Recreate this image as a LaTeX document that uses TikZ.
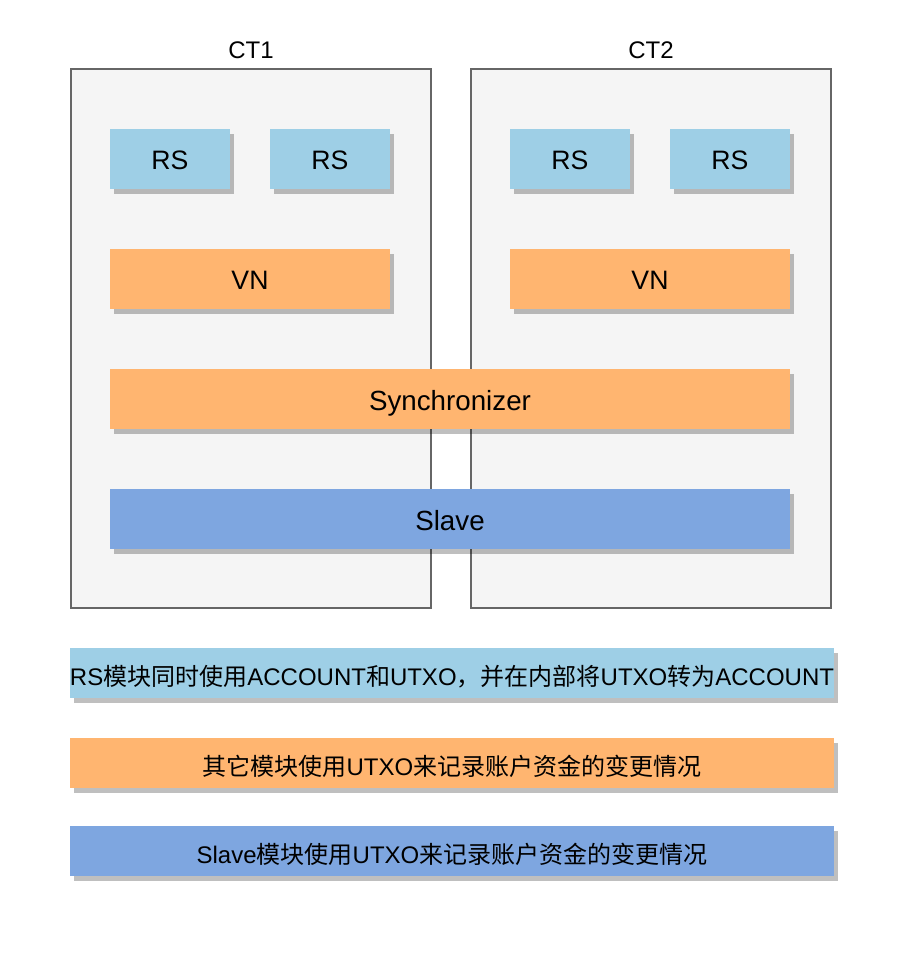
\documentclass[tikz,border=0pt]{standalone}
\usepackage{fontspec}
\setmainfont{Liberation Sans}
\newfontfamily\cjkfont{Noto Sans CJK SC}
\newcommand\zh[1]{{\cjkfont #1}}
\usetikzlibrary{shadows}
\definecolor{rsblue}{HTML}{9ECFE6}
\definecolor{vnorange}{HTML}{FFB570}
\definecolor{slaveblue}{HTML}{7EA6E0}
\definecolor{ctfill}{HTML}{F5F5F5}
\definecolor{ctline}{HTML}{666666}
\tikzset{
  shad/.style={drop shadow={shadow xshift=3.2pt, shadow yshift=-3.6pt, fill=black, opacity=0.25}},
  ctbox/.style={draw=ctline, fill=ctfill, line width=1.1pt, minimum width=270pt, minimum height=404.25pt, inner sep=0pt},
  ctlabel/.style={font=\fontsize{18pt}{21pt}\selectfont, inner sep=0pt, text height=12.9pt, text depth=0pt},
  blk/.style={shad, inner sep=0pt, minimum height=45pt, text height=15.3pt, text depth=0pt},
  rsbox/.style={blk, fill=rsblue, minimum width=90pt, font=\fontsize{20pt}{24pt}\selectfont},
  vnbox/.style={blk, fill=vnorange, minimum width=210pt, font=\fontsize{20pt}{24pt}\selectfont},
  widebox/.style={blk, minimum width=510pt, text height=17.9pt, font=\fontsize{20.8pt}{24pt}\selectfont},
  legend/.style={shad, inner sep=0pt, minimum width=573pt, minimum height=37.5pt, text height=18.9pt, text depth=0pt, font=\fontsize{18pt}{21pt}\selectfont},
}
\begin{document}
\begin{tikzpicture}[x=0.75pt, y=-0.75pt]
\useasboundingbox (0,0) rectangle (920,966);
% containers
\node[ctbox] (ct1) at (251,338.5) {};
\node[ctbox] (ct2) at (651,338.5) {};
\node[ctlabel] (ct1l) at (251,50) {CT1};
\node[ctlabel] (ct2l) at (651,50) {CT2};
% RS boxes
\node[rsbox] (rs1) at (170,159) {RS};
\node[rsbox] (rs2) at (330,159) {RS};
\node[rsbox] (rs3) at (570,159) {RS};
\node[rsbox] (rs4) at (730,159) {RS};
% VN boxes
\node[vnbox] (vn1) at (250,279) {VN};
\node[vnbox] (vn2) at (650,279) {VN};
% wide boxes
\node[widebox, fill=vnorange] (sync) at (450,399) {Synchronizer};
\node[widebox, fill=slaveblue] (slave) at (450,519) {Slave};
% legends
\node[legend, fill=rsblue] (leg1) at (452,673) {RS\zh{模块同时使用}ACCOUNT\zh{和}UTXO\zh{，并在内部将}UTXO\zh{转为}ACCOUNT};
\node[legend, fill=vnorange] (leg2) at (452,763) {\zh{其它模块使用}UTXO\zh{来记录账户资金的变更情况}};
\node[legend, fill=slaveblue] (leg3) at (452,851) {Slave\zh{模块使用}UTXO\zh{来记录账户资金的变更情况}};
\end{tikzpicture}
\end{document}
